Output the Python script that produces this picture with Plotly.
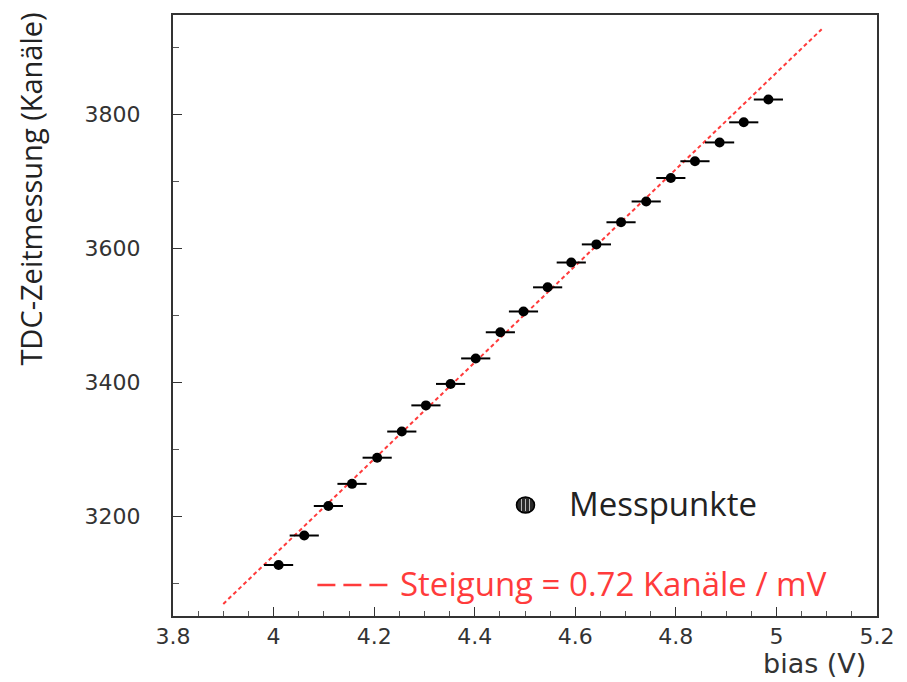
import plotly.graph_objects as go

# Measured TDC time vs. bias voltage
bias_v = [4.010, 4.061, 4.109, 4.156, 4.206, 4.255, 4.303, 4.352, 4.402, 4.451,
          4.497, 4.545, 4.592, 4.642, 4.691, 4.741, 4.790, 4.838, 4.887, 4.935, 4.984]
tdc_channels = [3128, 3172, 3216, 3249, 3288, 3327, 3366, 3398, 3436, 3475,
                3506, 3542, 3579, 3606, 3639, 3670, 3705, 3730, 3758, 3788, 3822]
bias_err = [0.029] * len(bias_v)

# Linear fit: slope 0.72 channels / mV = 720 channels / V
slope_per_mv = 0.72
fit_at_4v = 3142
fit_x = [3.9, 5.09]
fit_y = [fit_at_4v + slope_per_mv * 1000 * (x - 4.0) for x in fit_x]

x_ticks = [3.8, 4.0, 4.2, 4.4, 4.6, 4.8, 5.0, 5.2]
x_tick_text = ["3.8", "4", "4.2", "4.4", "4.6", "4.8", "5", "5.2"]
y_ticks = [3200, 3400, 3600, 3800]

RED = "#ff3b3b"
TICK_FONT = dict(family="DejaVu Sans", size=22, color="#333333")
TEXT_FONT = "Open Sans"

fig = go.Figure()

fig.add_trace(go.Scatter(
    x=fit_x, y=fit_y, mode="lines",
    line=dict(color=RED, width=2, dash="4px,3px"),
    showlegend=False, hoverinfo="skip",
))

fig.add_trace(go.Scatter(
    x=bias_v, y=tdc_channels, mode="markers",
    marker=dict(color="black", size=10),
    error_x=dict(type="data", array=bias_err, color="black", thickness=2, width=0),
    showlegend=False,
))

L, R, T, B = 173, 27, 15, 66
W, H = 907, 682
pw, ph = W - L - R, H - T - B


def px(xp):
    return (xp - L) / pw


def py(yp):
    return (H - B - yp) / ph


annotations = [
    dict(text="TDC-Zeitmessung (Kanäle)", x=px(30), y=py(189), textangle=-90,
         font=dict(family=TEXT_FONT, size=29, color="#222222")),
    dict(text="bias (V)", x=px(817), y=py(663),
         font=dict(family="DejaVu Sans", size=27, color="#333333")),
    dict(text="Messpunkte", x=px(569), y=py(504), xanchor="left",
         font=dict(family=TEXT_FONT, size=33, color="#222222")),
    dict(text="Steigung = 0.72 Kanäle / mV", x=px(399), y=py(583), xanchor="left",
         font=dict(family=TEXT_FONT, size=33, color=RED)),
]
for a in annotations:
    a.update(xref="paper", yref="paper", showarrow=False)
    a.setdefault("xanchor", "center")
    a.setdefault("yanchor", "middle")

shapes = [
    # legend sample for the fit line
    dict(type="line", xref="paper", yref="paper",
         x0=px(318), x1=px(392), y0=py(585), y1=py(585),
         line=dict(color=RED, width=2.5, dash="18px,8px")),
    # legend sample for the data points
    dict(type="circle", xref="paper", yref="paper", xsizemode="pixel", ysizemode="pixel",
         xanchor=px(527), yanchor=py(505), x0=-9, x1=9, y0=-8, y1=8,
         fillcolor="#2a2a2a", line=dict(color="black", width=1.5)),
]
for dx in (-4, 0, 4):
    shapes.append(dict(type="line", xref="paper", yref="paper",
                       xsizemode="pixel", ysizemode="pixel",
                       xanchor=px(527), yanchor=py(505),
                       x0=dx, x1=dx, y0=-6, y1=6,
                       line=dict(color="#bbbbbb", width=1)))

fig.update_layout(
    width=W, height=H,
    margin=dict(l=L, r=R, t=T, b=B),
    paper_bgcolor="white", plot_bgcolor="white",
    showlegend=False,
    annotations=annotations,
    shapes=shapes,
)

fig.update_xaxes(
    range=[3.8, 5.2], tickvals=x_ticks, ticktext=x_tick_text,
    ticks="inside", ticklen=9, tickwidth=1, tickcolor="#333333",
    minor=dict(dtick=0.05, ticks="inside", ticklen=5, tickcolor="#555555"),
    showline=True, linecolor="#333333", linewidth=2, mirror=True,
    showgrid=False, zeroline=False, tickfont=TICK_FONT, ticklabelstandoff=0,
)
fig.update_yaxes(
    range=[3052, 3948], tickvals=y_ticks,
    ticks="inside", ticklen=9, tickwidth=1, tickcolor="#333333",
    minor=dict(dtick=100, ticks="inside", ticklen=6, tickcolor="#555555"),
    showline=True, linecolor="#333333", linewidth=2, mirror=True,
    showgrid=False, zeroline=False, tickfont=TICK_FONT, ticklabelstandoff=26,
)

fig.write_html("out.html")
